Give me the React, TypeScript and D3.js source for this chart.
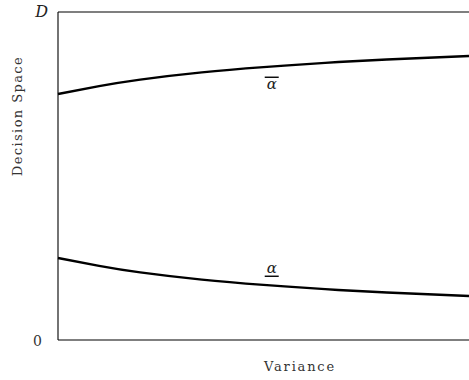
import React from "react";
import * as d3 from "d3";

// Variance (normalised) at which the boundaries are sampled
const variance = [0, 0.1, 0.2, 0.35, 0.5, 0.65, 0.8, 1.0];
// Upper boundary (alpha-bar) in decision space, 0..D
const upperAlpha = [0.75, 0.774, 0.794, 0.816, 0.832, 0.845, 0.855, 0.866];
// Lower boundary (alpha-underbar)
const lowerAlpha = [0.25, 0.226, 0.206, 0.184, 0.168, 0.155, 0.145, 0.134];
// Axis end labels
const yTickLabels = ["0", "D"];
const xTitle = "Variance";
const yTitle = "Decision Space";

const W = 469;
const H = 380;
const M = { left: 58, right: 0, top: 12, bottom: 40 };
const serif = "'DejaVu Serif', 'Liberation Serif', serif";

export default function App() {
  const x = d3.scaleLinear().domain([0, 1]).range([M.left, W - M.right]);
  const y = d3.scaleLinear().domain([0, 1]).range([H - M.bottom, M.top]);

  const line = d3
    .line<number>()
    .x((_, i) => x(variance[i]))
    .y((d) => y(d))
    .curve(d3.curveNatural);

  const labelX = x(0.52);
  const upperLabelY = y(0.766);
  const lowerLabelY = y(0.205);

  return (
    <svg
      width={W}
      height={H}
      style={{ position: "absolute", left: 0, top: 0, background: "#fff" }}
    >
      {/* frame: top, left, bottom */}
      <g stroke="#000" strokeWidth={1.1} fill="none">
        <line x1={x(0)} x2={x(1)} y1={y(1)} y2={y(1)} />
        <line x1={x(0)} x2={x(0)} y1={y(0)} y2={y(1)} />
        <line x1={x(0)} x2={x(1)} y1={y(0)} y2={y(0)} />
      </g>

      <path d={line(upperAlpha) ?? ""} fill="none" stroke="#000" strokeWidth={2.4} />
      <path d={line(lowerAlpha) ?? ""} fill="none" stroke="#000" strokeWidth={2.4} />

      {/* boundary labels */}
      <text
        x={labelX}
        y={upperLabelY}
        textAnchor="middle"
        fontFamily={serif}
        fontStyle="italic"
        fontSize={15}
        fill="#222"
      >
        α
      </text>
      <line x1={labelX - 7} x2={labelX + 7} y1={upperLabelY - 11.5} y2={upperLabelY - 11.5} stroke="#000" strokeWidth={1.4} />
      <text
        x={labelX}
        y={lowerLabelY}
        textAnchor="middle"
        fontFamily={serif}
        fontStyle="italic"
        fontSize={15}
        fill="#222"
      >
        α
      </text>
      <line x1={labelX - 7} x2={labelX + 7} y1={lowerLabelY + 3.5} y2={lowerLabelY + 3.5} stroke="#000" strokeWidth={1.4} />

      {/* y end labels */}
      <text x={42} y={y(0) + 6} textAnchor="end" fontFamily={serif} fontSize={14} fill="#333">
        {yTickLabels[0]}
      </text>
      <text x={48} y={y(1) + 5} textAnchor="end" fontFamily={serif} fontStyle="italic" fontSize={16} fill="#222">
        {yTickLabels[1]}
      </text>

      {/* axis titles */}
      <text
        x={300}
        y={371}
        textAnchor="middle"
        fontFamily={serif}
        fontSize={13}
        letterSpacing={1.8}
        fill="#333"
      >
        {xTitle}
      </text>
      <text
        transform={`translate(22, 116) rotate(-90)`}
        textAnchor="middle"
        fontFamily={serif}
        fontSize={13}
        letterSpacing={1.4}
        fill="#333"
      >
        {yTitle}
      </text>
    </svg>
  );
}
